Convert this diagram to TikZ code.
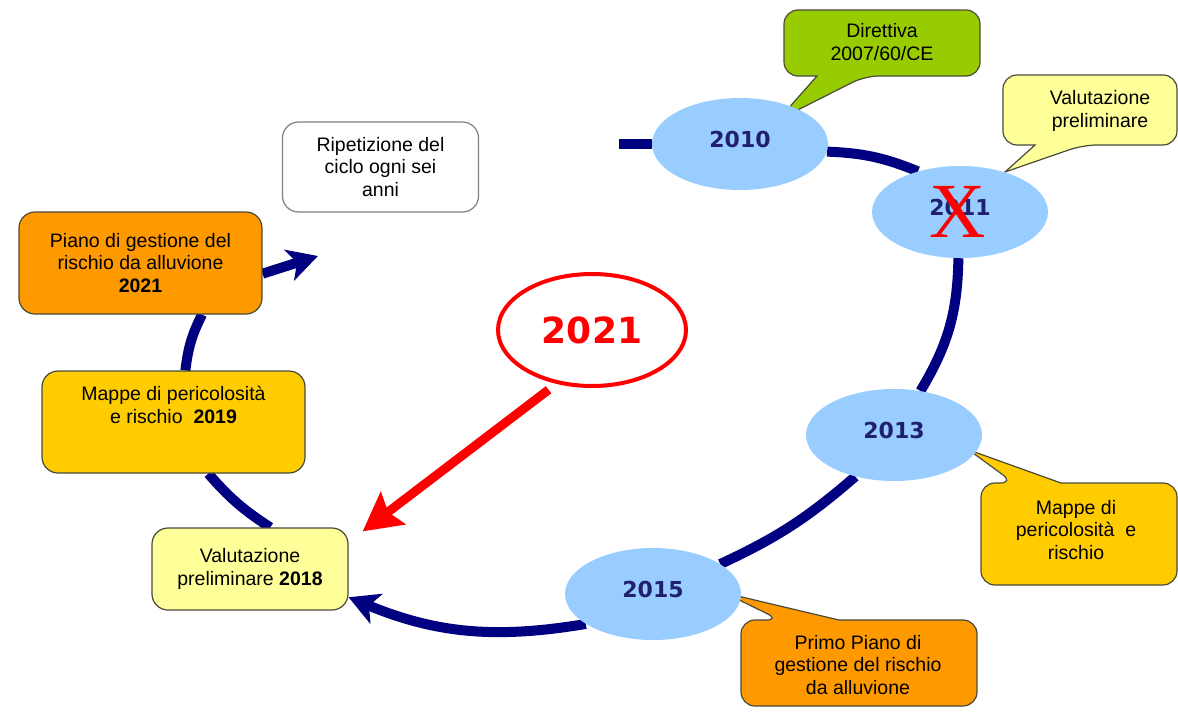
\documentclass[tikz,border=0pt]{standalone}
\usepackage{fontspec}
\setmainfont{Liberation Sans}
\newfontfamily\yearfont{DejaVu Sans}
\newfontfamily\xserif{Liberation Serif}
\usetikzlibrary{arrows.meta,calc,shapes.geometric}
\pgfdeclarelayer{bg}
\pgfsetlayers{bg,main}
\definecolor{navy}{HTML}{000080}
\definecolor{callgreen}{HTML}{99CC00}
\definecolor{lyellow}{HTML}{FFFF99}
\definecolor{gold}{HTML}{FFCC00}
\definecolor{orng}{HTML}{FF9900}
\definecolor{skyblue}{HTML}{99CCFF}
\definecolor{yeartext}{HTML}{202070}
\definecolor{boxline}{HTML}{4A4A3A}
\newcommand{\upyear}[1]{\raisebox{10pt}{#1}}
\begin{document}
\begin{tikzpicture}[x=1pt,y=-1pt,
  yearell/.style={ellipse, fill=skyblue, minimum width=176pt, minimum height=92pt, inner sep=0pt,
    font=\yearfont\bfseries\fontsize{22}{22}\selectfont, text=yeartext},
  boxst/.style={rectangle, rounded corners=16pt, draw=boxline, line width=1.2pt, inner sep=0pt,
    align=center, font=\fontsize{19.5}{22.5}\selectfont},
  cyc/.style={draw=navy, line width=10pt},
  navyhead/.style={-{Stealth[length=30pt,width=32pt,inset=8pt]}},
  callshape/.style={draw=boxline, line width=1.2pt, rounded corners=14pt},
  calltext/.style={align=center, font=\fontsize{19.5}{22.5}\selectfont, inner sep=0pt}]
\useasboundingbox (0,0) rectangle (1178,718);

% boxes on the left
\node[boxst, fill=orng, minimum width=243pt, minimum height=102pt] (piano) at (140.5,263)
  {Piano di gestione del\\rischio da alluvione\\\textbf{2021}};
\node[boxst, fill=gold, minimum width=263pt, minimum height=102pt] (mappe) at (173.5,422)
  {Mappe di pericolosità\\e rischio\ \ \textbf{2019}\\[12pt]\mbox{}};
\node[boxst, fill=lyellow, minimum width=196pt, minimum height=82pt] (v18) at (250,569)
  {Valutazione\\preliminare \textbf{2018}};
\node[boxst, fill=white, draw=gray, minimum width=196pt, minimum height=90pt] (rip) at (380.5,167)
  {Ripetizione del\\ciclo ogni sei\\anni};

% callouts
\draw[callshape, fill=callgreen] (784,10) -- (980,10) -- (980,76) -- (865,76) [sharp corners] -- (778,120) -- (817,76) [rounded corners=14pt] -- (784,76) -- cycle;
\node[calltext] (dirT) at (882,42) {Direttiva\\2007/60/CE};

\draw[callshape, fill=lyellow] (1003,75) -- (1177,75) -- (1177,145) -- (1083,145) [sharp corners] -- (1005,172) -- (1035,145) [rounded corners=14pt] -- (1003,145) -- cycle;
\node[calltext] (valT) at (1100,111) {Valutazione\\preliminare};

\draw[callshape, fill=gold] (981,483) -- (1014,483) [sharp corners] -- (969,450) -- (1061,483) [rounded corners=14pt] -- (1177,483) -- (1177,585) -- (981,585) -- cycle;
\node[calltext] (mapT) at (1076,530) {Mappe di\\pericolosità\ \ e\\rischio};

\draw[callshape, fill=orng] (741,620) -- (780,620) [sharp corners] -- (725,593) -- (839,620) [rounded corners=14pt] -- (977,620) -- (977,706) -- (741,706) -- cycle;
\node[calltext] (priT) at (858,665) {Primo Piano di\\gestione del rischio\\da alluvione};

% year ellipses
\node[yearell] (e2010) at (740,144) {\upyear{2010}};
\node[yearell] (e2011) at (960,212) {\upyear{2011}};
\node[yearell] (e2013) at (894,435) {\upyear{2013}};
\node[yearell] (e2015) at (653,594) {\upyear{2015}};
\node[font=\xserif\fontsize{78}{78}\selectfont, text=red, inner sep=0pt] (xmark) at (958,212) {X};

% red 2021
\node[ellipse, draw=red, line width=4pt, minimum width=188pt, minimum height=112pt, inner sep=0pt,
  text=red, font=\yearfont\bfseries\fontsize{36}{36}\selectfont] (r21) at (592,330) {2021};

% cycle connectors
\begin{pgfonlayer}{bg}
\coordinate (s0) at (619,144);
\draw[cyc] (s0) -- (e2010.west);
\draw[cyc] (e2010.-5) to[bend left=10] (e2011.136);
\draw[cyc] (e2011.-92) to[bend left=15] (e2013.59);
\draw[cyc] (e2013.-133) to[bend left=8] (e2015.24);
\draw[cyc, navyhead] (e2015.-156) to[bend left=16] (v18.-16.5);
\draw[cyc] (v18.64) to[bend left=8] (mappe.-56.7);
\draw[cyc] (mappe.77) to[bend left=10] (piano.-40.6);
\coordinate (pt) at (318,256);
\draw[cyc, navyhead] (piano.-5) -- (pt);
\end{pgfonlayer}

% red arrow
\draw[draw=red, line width=9pt, -{Stealth[length=38pt,width=40pt,inset=6pt]}]
  ($(r21.-130)+(0,8)$) -- ($(v18.north east)+(14,4)$);
\end{tikzpicture}
\end{document}
